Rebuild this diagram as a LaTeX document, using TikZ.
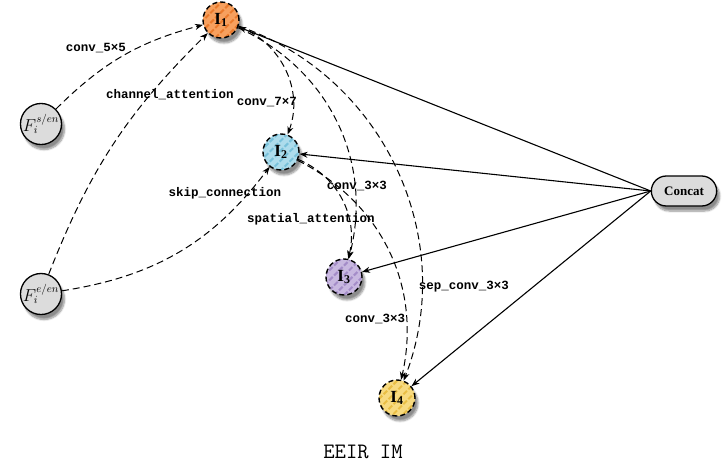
\documentclass[tikz,border=0pt]{standalone}
\usepackage{fontspec}
\setmainfont{Liberation Serif}
\newfontfamily\lblfont{Liberation Mono}
\newfontfamily\ttlfont{Latin Modern Mono}
\usetikzlibrary{arrows.meta,patterns.meta,shadows.blur,shapes.misc}
\definecolor{cIa}{HTML}{F7A05E}
\definecolor{sIa}{HTML}{EA7A2C}
\definecolor{cIb}{HTML}{ADDCEC}
\definecolor{sIb}{HTML}{78C1DA}
\definecolor{cIc}{HTML}{C8B8E0}
\definecolor{sIc}{HTML}{A48CC8}
\definecolor{cId}{HTML}{F7DA80}
\definecolor{sId}{HTML}{E9BE45}
\definecolor{fgray}{HTML}{DCDCDC}
\begin{document}
\begin{tikzpicture}[x=1pt,y=-1pt,
  shad/.style={blur shadow={shadow xshift=3pt, shadow yshift=-5pt, shadow blur steps=8, shadow opacity=45}},
  inode/.style n args={2}{circle, minimum size=36pt, inner sep=0pt, shad,
    preaction={fill=#1}, pattern={Lines[angle=45,distance=7pt,line width=2pt]}, pattern color=#2,
    draw=black, line width=1.4pt, dash pattern=on 5pt off 3pt,
    font=\bfseries\fontsize{17}{17}\selectfont},
  fnode/.style={circle, minimum size=40pt, inner sep=0pt, shad, fill=fgray, draw=black, line width=1.3pt,
    font=\fontsize{16}{16}\selectfont},
  cnode/.style={rounded rectangle, minimum width=72pt, minimum height=30pt, shad, fill=fgray, draw=black,
    line width=1.3pt, font=\bfseries\fontsize{13}{13}\selectfont},
  lbl/.style={font=\lblfont\bfseries\fontsize{12.5}{12.5}\selectfont, inner sep=1pt},
  dedge/.style={line width=1pt, dash pattern=on 7pt off 4pt, -{Stealth[length=8pt,width=6pt]}},
  sedge/.style={line width=1.1pt, -{Stealth[length=8pt,width=6pt]}},
  ttl/.style={font=\ttlfont\fontsize{22}{22}\selectfont}
]
\useasboundingbox (0,0) rectangle (728,471);
\node[cnode] (C) at (684,191) {Concat};
\coordinate (Cw) at (C.west);
\node[fnode] (Fs) at (41,124) {$F_i^{s/en}$};
\node[fnode] (Fe) at (41,294) {$F_i^{e/en}$};
\node[inode={cIa}{sIa}] (I1) at (221,20) {I$_{\mathbf{1}}$};
\node[inode={cIb}{sIb}] (I2) at (281,152) {I$_{\mathbf{2}}$};
\node[inode={cIc}{sIc}] (I3) at (344,277) {I$_{\mathbf{3}}$};
\node[inode={cId}{sId}] (I4) at (397,398) {I$_{\mathbf{4}}$};
\draw[sedge] (Cw) -- (I1);
\draw[sedge] (Cw) -- (I2);
\draw[sedge] (Cw) -- (I3);
\draw[sedge] (Cw) -- (I4);
\draw[dedge] (Fs) to[bend left=15] (I1);
\draw[dedge] (Fe) to[bend left=12] (I1);
\draw[dedge] (Fe) to[bend right=22] (I2);
\draw[dedge] (I1) to[bend left=45] (I2);
\draw[dedge] (I1) to[bend left=40] (I3);
\draw[dedge] (I1) to[bend left=46] (I4);
\draw[dedge] (I2) to[bend left=40] (I3);
\draw[dedge] (I2) to[bend left=38] (I4);
\node[lbl] (l1) at (96,48) {conv\_5×5};
\node[lbl] (l2) at (170,95) {channel\_attention};
\node[lbl] (l3) at (267,102) {conv\_7×7};
\node[lbl] (l4) at (225,193) {skip\_connection};
\node[lbl] (l5) at (357,186) {conv\_3×3};
\node[lbl] (l6) at (311,219) {spatial\_attention};
\node[lbl] (l7) at (464,287) {sep\_conv\_3×3};
\node[lbl] (l8) at (375,319) {conv\_3×3};
\node[ttl] (t) at (363,452) {EEIR IM};
\end{tikzpicture}
\end{document}
